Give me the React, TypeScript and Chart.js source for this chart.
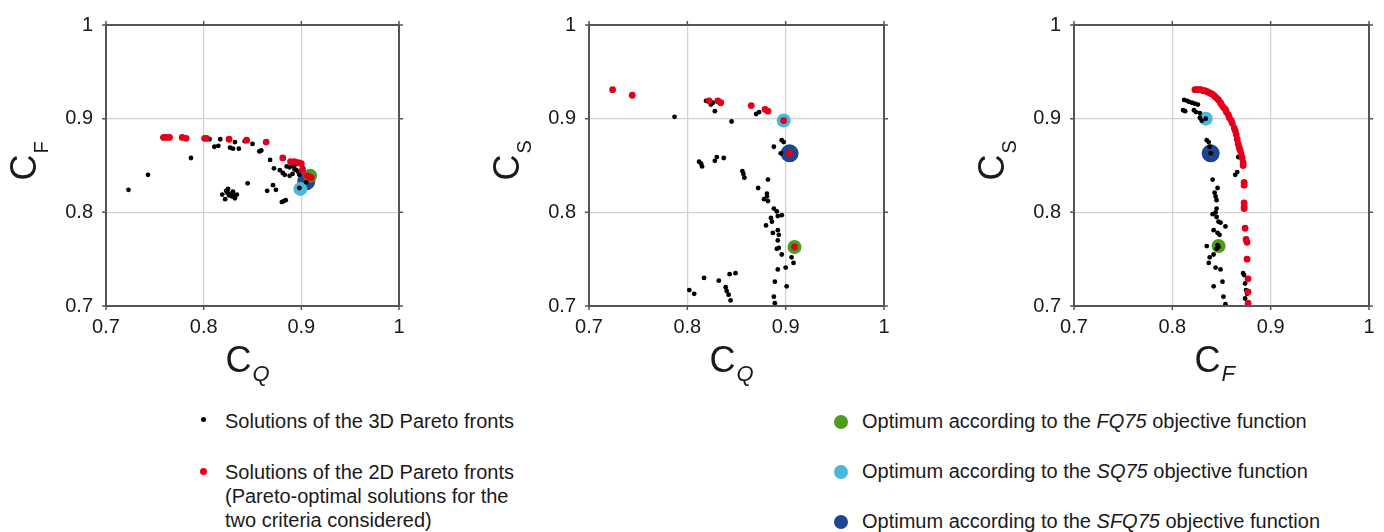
import React, { useEffect, useRef } from "react";
import { Chart, registerables } from "chart.js";
Chart.register(...registerables);

type Pt = [number, number];

const axisTicks = [0.7, 0.8, 0.9, 1.0];
const tickLabels = ["0.7", "0.8", "0.9", "1"];

// Panel 1: C_Q (x) vs C_F (y)
const p1Black: Pt[] = [
  [0.723, 0.824], [0.743, 0.840], [0.758, 0.880], [0.787, 0.858], [0.806, 0.878], [0.817, 0.878],
  [0.811, 0.870], [0.815, 0.871], [0.827, 0.869], [0.830, 0.868], [0.836, 0.868], [0.832, 0.875],
  [0.842, 0.876], [0.850, 0.873], [0.857, 0.865], [0.859, 0.866], [0.845, 0.831],
  [0.819, 0.819], [0.823, 0.823], [0.825, 0.825], [0.827, 0.820], [0.829, 0.817], [0.830, 0.822],
  [0.832, 0.815], [0.834, 0.819], [0.822, 0.814], [0.826, 0.818], [0.824, 0.821], [0.831, 0.818],
  [0.868, 0.856], [0.872, 0.847], [0.878, 0.845], [0.881, 0.842], [0.883, 0.840], [0.871, 0.829],
  [0.874, 0.824], [0.865, 0.823], [0.880, 0.811], [0.882, 0.812], [0.884, 0.813],
  [0.885, 0.849], [0.888, 0.848], [0.891, 0.850], [0.893, 0.846], [0.895, 0.845], [0.888, 0.839],
  [0.891, 0.841], [0.897, 0.843], [0.898, 0.840], [0.898, 0.826], [0.905, 0.832], [0.902, 0.847],
  [0.894, 0.851],
];
const p1Red: Pt[] = [
  [0.759, 0.880], [0.762, 0.880], [0.765, 0.880], [0.778, 0.880], [0.782, 0.879], [0.801, 0.879],
  [0.803, 0.879], [0.826, 0.878], [0.844, 0.877], [0.864, 0.875], [0.881, 0.858], [0.889, 0.854],
  [0.893, 0.854], [0.897, 0.853], [0.900, 0.852], [0.901, 0.845], [0.906, 0.839], [0.908, 0.838],
  [0.910, 0.837],
];
const p1Green: Pt[] = [[0.909, 0.839]];
const p1Light: Pt[] = [[0.899, 0.825]];
const p1Dark: Pt[] = [[0.905, 0.833]];

// Panel 2: C_Q (x) vs C_S (y)
const p2Black: Pt[] = [
  [0.787, 0.902], [0.819, 0.919], [0.824, 0.915], [0.826, 0.917], [0.828, 0.908], [0.845, 0.897],
  [0.870, 0.905], [0.873, 0.907], [0.896, 0.877], [0.898, 0.875], [0.888, 0.870], [0.895, 0.863],
  [0.812, 0.854], [0.814, 0.852], [0.815, 0.849], [0.828, 0.855], [0.830, 0.859], [0.837, 0.858],
  [0.856, 0.844], [0.857, 0.841], [0.858, 0.837], [0.872, 0.826], [0.882, 0.835], [0.881, 0.820],
  [0.881, 0.817], [0.878, 0.814], [0.882, 0.812], [0.888, 0.804], [0.891, 0.801], [0.896, 0.797],
  [0.892, 0.796], [0.885, 0.794], [0.886, 0.790], [0.880, 0.786], [0.887, 0.778], [0.892, 0.781],
  [0.893, 0.776], [0.892, 0.770], [0.891, 0.761], [0.893, 0.762], [0.896, 0.755], [0.906, 0.752],
  [0.908, 0.746], [0.900, 0.741], [0.892, 0.739], [0.889, 0.726], [0.901, 0.721], [0.888, 0.710],
  [0.889, 0.703], [0.817, 0.730], [0.832, 0.727], [0.843, 0.734], [0.849, 0.735], [0.839, 0.720],
  [0.840, 0.716], [0.842, 0.712], [0.844, 0.706], [0.802, 0.717], [0.807, 0.713],
];
const p2Red: Pt[] = [
  [0.724, 0.931], [0.744, 0.925], [0.822, 0.919], [0.831, 0.919], [0.834, 0.917], [0.865, 0.914],
  [0.879, 0.910], [0.882, 0.908], [0.898, 0.898], [0.904, 0.863], [0.909, 0.763],
];
const p2Green: Pt[] = [[0.909, 0.763]];
const p2Light: Pt[] = [[0.898, 0.898]];
const p2Dark: Pt[] = [[0.904, 0.863]];

// Panel 3: C_F (x) vs C_S (y)
const p3Black: Pt[] = [
  [0.812, 0.920], [0.815, 0.919], [0.817, 0.918], [0.820, 0.917], [0.823, 0.916], [0.826, 0.915],
  [0.811, 0.909], [0.813, 0.908], [0.822, 0.909], [0.824, 0.907], [0.828, 0.906], [0.830, 0.898],
  [0.834, 0.900], [0.828, 0.901], [0.835, 0.877], [0.837, 0.875], [0.838, 0.870], [0.839, 0.863],
  [0.867, 0.859], [0.866, 0.843], [0.864, 0.840], [0.841, 0.835], [0.843, 0.821], [0.844, 0.817],
  [0.845, 0.813], [0.846, 0.826], [0.845, 0.804], [0.844, 0.800], [0.841, 0.798], [0.845, 0.795],
  [0.847, 0.790], [0.849, 0.789], [0.854, 0.785], [0.842, 0.781], [0.846, 0.778], [0.848, 0.776],
  [0.847, 0.763], [0.845, 0.761], [0.846, 0.765], [0.835, 0.764], [0.838, 0.752], [0.837, 0.746],
  [0.842, 0.755], [0.844, 0.741], [0.849, 0.739], [0.842, 0.721], [0.851, 0.726], [0.852, 0.710],
  [0.854, 0.702], [0.872, 0.735], [0.873, 0.733], [0.874, 0.724], [0.875, 0.717], [0.876, 0.713],
  [0.874, 0.708],
];
const p3Red: Pt[] = [
  [0.823, 0.931], [0.825, 0.931], [0.827, 0.931], [0.829, 0.931], [0.831, 0.930], [0.833, 0.930],
  [0.835, 0.929], [0.837, 0.928], [0.839, 0.927], [0.841, 0.926], [0.843, 0.924], [0.845, 0.922],
  [0.847, 0.920], [0.849, 0.917], [0.850, 0.915], [0.852, 0.912], [0.854, 0.910], [0.855, 0.907],
  [0.857, 0.904], [0.858, 0.901], [0.860, 0.898], [0.861, 0.895], [0.863, 0.890], [0.864, 0.887],
  [0.865, 0.883], [0.866, 0.878], [0.867, 0.873], [0.868, 0.869], [0.869, 0.866], [0.870, 0.862],
  [0.871, 0.858], [0.872, 0.853], [0.872, 0.850], [0.873, 0.832], [0.873, 0.829], [0.873, 0.810],
  [0.873, 0.806], [0.873, 0.804], [0.874, 0.783], [0.875, 0.771], [0.876, 0.768], [0.876, 0.750],
  [0.877, 0.729], [0.877, 0.715], [0.877, 0.703],
];
const p3Green: Pt[] = [[0.847, 0.764]];
const p3Light: Pt[] = [[0.834, 0.900]];
const p3Dark: Pt[] = [[0.839, 0.863]];

const FONT = "'Liberation Sans', Arial, Helvetica, sans-serif";
const COL_BLACK = "#000000";
const COL_RED = "#e2001a";
const COL_GREEN = "#4f9b1b";
const COL_LIGHT = "#4db6dc";
const COL_DARK = "#1d4592";
const COL_FRAME = "#555555";
const COL_GRID = "#d2d2d2";
const COL_TEXT = "#1a1a1a";

const toXY = (a: Pt[]) => a.map(([x, y]) => ({ x, y }));

const frameTitles = {
  id: "frameTitles",
  afterDraw(chart: any, _args: any, opts: any) {
    const { ctx, chartArea: a, scales } = chart;
    ctx.save();
    ctx.strokeStyle = COL_FRAME;
    ctx.lineWidth = 2;
    ctx.strokeRect(a.left, a.top, a.right - a.left, a.bottom - a.top);
    ctx.lineWidth = 1.5;
    ctx.beginPath();
    for (const v of axisTicks) {
      const px = scales.x.getPixelForValue(v);
      const py = scales.y.getPixelForValue(v);
      ctx.moveTo(px, a.bottom);
      ctx.lineTo(px, a.bottom + 4);
      ctx.moveTo(px, a.top);
      ctx.lineTo(px, a.top - 4);
      ctx.moveTo(a.left, py);
      ctx.lineTo(a.left - 4, py);
      ctx.moveTo(a.right, py);
      ctx.lineTo(a.right + 4, py);
    }
    ctx.stroke();

    ctx.fillStyle = COL_TEXT;
    ctx.textAlign = "left";
    ctx.textBaseline = "alphabetic";
    const cx = (a.left + a.right) / 2;
    const cy = (a.top + a.bottom) / 2;
    // x title
    ctx.font = `36px ${FONT}`;
    const w1 = ctx.measureText(opts.x[0]).width;
    const x0 = cx - 27;
    ctx.fillText(opts.x[0], x0, a.bottom + 66);
    ctx.font = `italic 22px ${FONT}`;
    ctx.fillText(opts.x[1], x0 + w1 + 1, a.bottom + 75);
    // y title
    ctx.translate(a.left - 70, cy + 15);
    ctx.rotate(-Math.PI / 2);
    ctx.font = `36px ${FONT}`;
    const w2 = ctx.measureText(opts.y[0]).width;
    ctx.fillText(opts.y[0], 0, 0);
    ctx.font = `20px ${FONT}`;
    ctx.fillText(opts.y[1], w2 + 1, 12);
    ctx.restore();
  },
};

type PanelDef = {
  left: number;
  width: number;
  yw: number;
  padR: number;
  black: Pt[];
  red: Pt[];
  green: Pt[];
  light: Pt[];
  dark: Pt[];
  xt: [string, string];
  yt: [string, string];
};

const panels: PanelDef[] = [
  { left: 0, width: 420, yw: 106, padR: 21, black: p1Black, red: p1Red, green: p1Green, light: p1Light, dark: p1Dark, xt: ["C", "Q"], yt: ["C", "F"] },
  { left: 480, width: 420, yw: 109, padR: 16, black: p2Black, red: p2Red, green: p2Green, light: p2Light, dark: p2Dark, xt: ["C", "Q"], yt: ["C", "S"] },
  { left: 960, width: 424, yw: 114, padR: 15, black: p3Black, red: p3Red, green: p3Green, light: p3Light, dark: p3Dark, xt: ["C", "F"], yt: ["C", "S"] },
];

const CANVAS_H = 395;

function makeScale(axis: "x" | "y", size: number) {
  return {
    type: "linear",
    min: 0.7,
    max: 1,
    afterBuildTicks: (s: any) => {
      s.ticks = axisTicks.map((v) => ({ value: v }));
    },
    ticks: {
      callback: (_v: any, i: number) => tickLabels[i],
      font: { size: 20, family: FONT },
      color: COL_TEXT,
      padding: axis === "x" ? 9 : 13,
      maxRotation: 0,
      autoSkip: false,
    },
    grid: { color: COL_GRID, lineWidth: 1.3, drawTicks: false },
    border: { display: false },
    afterFit: (s: any) => {
      if (axis === "x") s.height = size;
      else s.width = size;
    },
  };
}

function Panel({ def }: { def: PanelDef }) {
  const ref = useRef<HTMLCanvasElement | null>(null);
  useEffect(() => {
    if (!ref.current) return;
    const ds = (label: string, data: Pt[], color: string, r: number, order: number) => ({
      label,
      data: toXY(data),
      backgroundColor: color,
      borderWidth: 0,
      pointRadius: r,
      pointHoverRadius: r,
      order,
    });
    const chart = new Chart(ref.current, {
      type: "scatter",
      data: {
        datasets: [
          ds("2D Pareto", def.red, COL_RED, 3.4, 0),
          ds("3D Pareto", def.black, COL_BLACK, 2.4, 1),
          ds("SQ75", def.light, COL_LIGHT, 7, 2),
          ds("FQ75", def.green, COL_GREEN, 7, 3),
          ds("SFQ75", def.dark, COL_DARK, 9, 4),
        ],
      },
      options: {
        responsive: false,
        animation: false,
        events: [],
        layout: { padding: { left: 0, right: def.padR, top: 21, bottom: 0 } },
        scales: {
          x: makeScale("x", CANVAS_H - 306),
          y: makeScale("y", def.yw),
        } as any,
        plugins: {
          legend: { display: false },
          tooltip: { enabled: false },
          frameTitles: { x: def.xt, y: def.yt },
        } as any,
      },
      plugins: [frameTitles],
    });
    return () => chart.destroy();
  }, [def]);
  return (
    <canvas
      ref={ref}
      width={def.width}
      height={CANVAS_H}
      style={{ position: "absolute", left: def.left, top: 0, width: def.width, height: CANVAS_H }}
    />
  );
}

const textStyle: React.CSSProperties = {
  position: "absolute",
  fontFamily: FONT,
  fontSize: 20,
  lineHeight: "24px",
  color: COL_TEXT,
  whiteSpace: "nowrap",
};

function Dot({ x, y, d, color }: { x: number; y: number; d: number; color: string }) {
  return (
    <span
      style={{
        position: "absolute",
        left: x - d / 2,
        top: y - d / 2,
        width: d,
        height: d,
        borderRadius: "50%",
        background: color,
      }}
    />
  );
}

export default function App() {
  return (
    <div style={{ position: "absolute", left: 0, top: 0, width: 1384, height: 532, background: "#fff", overflow: "hidden" }}>
      {panels.map((p, i) => (
        <Panel key={i} def={p} />
      ))}
      <Dot x={203} y={419} d={5} color={COL_BLACK} />
      <div style={{ ...textStyle, left: 225, top: 409 }}>Solutions of the 3D Pareto fronts</div>
      <Dot x={203} y={471} d={7} color={COL_RED} />
      <div style={{ ...textStyle, left: 225, top: 460 }}>
        Solutions of the 2D Pareto fronts
        <br />
        (Pareto-optimal solutions for the
        <br />
        two criteria considered)
      </div>
      <Dot x={841} y={422} d={14} color={COL_GREEN} />
      <div style={{ ...textStyle, left: 862, top: 409 }}>
        Optimum according to the <i>FQ75</i> objective function
      </div>
      <Dot x={841} y={472} d={14} color={COL_LIGHT} />
      <div style={{ ...textStyle, left: 862, top: 459 }}>
        Optimum according to the <i>SQ75</i> objective function
      </div>
      <Dot x={841} y={522} d={14} color={COL_DARK} />
      <div style={{ ...textStyle, left: 862, top: 509 }}>
        Optimum according to the <i>SFQ75</i> objective function
      </div>
    </div>
  );
}
